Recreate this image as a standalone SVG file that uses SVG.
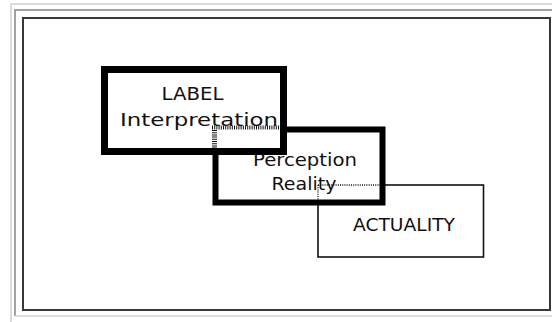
<svg xmlns="http://www.w3.org/2000/svg" width="552" height="322" viewBox="0 0 552 322">
<style>
.lt{stroke:#d4d0c8;stroke-width:1.5;fill:none}
.dk{stroke:#858585;stroke-width:1.5;fill:none}
.thick{fill:#fff;stroke:#000;stroke-width:7}
.mid{fill:#fff;stroke:#000;stroke-width:6}
.thin{fill:#fff;stroke:#111;stroke-width:1.6}
.hid{fill:none;stroke:#111;stroke-dasharray:1 1.2}
text{font-family:"DejaVu Sans","Liberation Sans",sans-serif;fill:#111;text-anchor:start}
</style>
<rect x="0" y="0" width="552" height="322" fill="#fff"/>
<g id="frame">
<path class="lt" d="M11 322V4H552"/>
<path class="dk" d="M15 316V10H552"/>
<path class="lt" d="M15 316H552"/>
<rect x="23" y="18" width="527" height="292" fill="none" stroke="#383838" stroke-width="2"/>
</g>
<g id="actuality">
<rect class="thin" x="318" y="185" width="165.5" height="72"/>
<text x="353" y="230.5" font-size="17" textLength="102" lengthAdjust="spacingAndGlyphs">ACTUALITY</text>
</g>
<g id="perception">
<rect class="mid" x="215.5" y="129.5" width="167" height="73"/>
<text x="253" y="165.5" font-size="17.5" textLength="104" lengthAdjust="spacingAndGlyphs">Perception</text>
<text x="271.5" y="190" font-size="17.5" textLength="65" lengthAdjust="spacingAndGlyphs">Reality</text>
</g>
<g id="actuality-hidden-edges">
<path class="hid" stroke-width="1.3" d="M318 185H380M318 185V200"/>
</g>
<g id="label">
<rect class="thick" x="104.5" y="69.5" width="179" height="82"/>
<text x="161.5" y="100" font-size="18" textLength="62" lengthAdjust="spacingAndGlyphs">LABEL</text>
<text x="120" y="126" font-size="18" textLength="158" lengthAdjust="spacingAndGlyphs">Interpretation</text>
</g>
<g id="perception-hidden-edges">
<path class="hid" stroke-width="4" d="M212 127.5H280"/>
<path class="hid" stroke-width="5" d="M214.5 130V148"/>
</g>
</svg>
